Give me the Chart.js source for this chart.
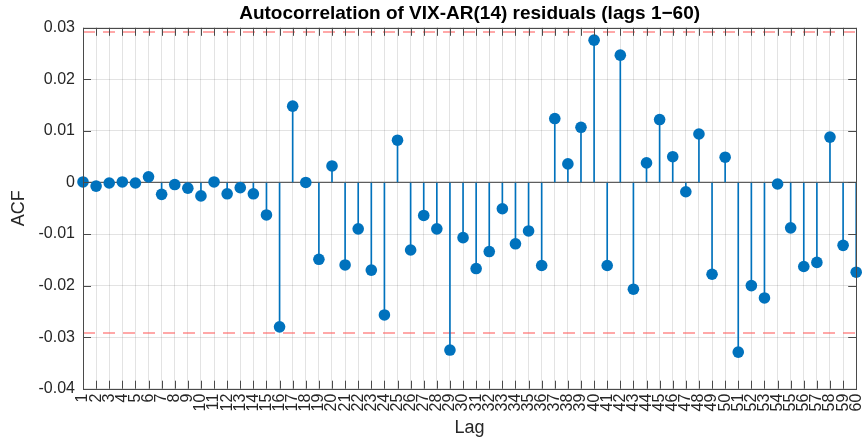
<!DOCTYPE html>
<html>
<head>
<meta charset="utf-8">
<script src="https://cdn.jsdelivr.net/npm/chart.js@4"></script>
<style>
  html, body { margin: 0; padding: 0; background: #fff; }
</style>
</head>
<body>
<canvas id="acfChart" width="862" height="444"></canvas>
<script>
const lags = [
    1, 2, 3, 4, 5, 6, 7, 8, 9, 10,
    11, 12, 13, 14, 15, 16, 17, 18, 19, 20,
    21, 22, 23, 24, 25, 26, 27, 28, 29, 30,
    31, 32, 33, 34, 35, 36, 37, 38, 39, 40,
    41, 42, 43, 44, 45, 46, 47, 48, 49, 50,
    51, 52, 53, 54, 55, 56, 57, 58, 59, 60,
];

const acf = [
    0.0001, -0.0007, -0.0001, 0.0001, -0.0001, 0.0011, -0.0023, -0.0004, -0.0011, -0.0026,
    0.0001, -0.0022, -0.0010, -0.0022, -0.0063, -0.0280, 0.0148, 0.0000, -0.0149, 0.0032,
    -0.0160, -0.0090, -0.0170, -0.0257, 0.0082, -0.0131, -0.0064, -0.0090, -0.0325, -0.0107,
    -0.0167, -0.0134, -0.0051, -0.0119, -0.0094, -0.0161, 0.0124, 0.0036, 0.0107, 0.0276,
    -0.0161, 0.0247, -0.0207, 0.0038, 0.0122, 0.0050, -0.0018, 0.0094, -0.0178, 0.0049,
    -0.0329, -0.0200, -0.0224, -0.0003, -0.0088, -0.0163, -0.0155, 0.0088, -0.0122, -0.0174,
];

// 95% band, +/- 1.96/sqrt(N)
const confBound = 0.0292;

const yTicks = [-0.04, -0.03, -0.02, -0.01, 0, 0.01, 0.02, 0.03];

const FONT = "'Liberation Sans', Arial, Helvetica, sans-serif";
const AXIS_COLOR = '#262626';
const STEM_COLOR = '#0072BD';

const points = lags.map((lag, i) => ({x: lag, y: acf[i]}));
const firstLag = lags[0];
const lastLag = lags[lags.length - 1];

// matlab style box, inward ticks and the stem baseline
const axesBox = {
    id: 'axesBox',
    beforeDatasetsDraw(chart) {
        const {ctx, chartArea: a, scales: {y}} = chart;
        const y0 = y.getPixelForValue(0);
        ctx.save();
        ctx.strokeStyle = '#5e5e5e';
        ctx.lineWidth = 1.2;
        ctx.beginPath();
        ctx.moveTo(a.left, y0);
        ctx.lineTo(a.right, y0);
        ctx.stroke();
        ctx.restore();
    },
    afterDraw(chart) {
        const {ctx, chartArea: a, scales: {x, y}} = chart;
        const len = 8;
        ctx.save();
        ctx.strokeStyle = '#4a4a4a';
        ctx.lineWidth = 1;
        ctx.beginPath();
        x.ticks.forEach(t => {
            const px = Math.round(x.getPixelForValue(t.value)) + 0.5;
            ctx.moveTo(px, a.bottom);
            ctx.lineTo(px, a.bottom - len);
            ctx.moveTo(px, a.top);
            ctx.lineTo(px, a.top + len);
        });
        y.ticks.forEach(t => {
            const py = Math.round(y.getPixelForValue(t.value)) + 0.5;
            ctx.moveTo(a.left, py);
            ctx.lineTo(a.left + len, py);
            ctx.moveTo(a.right, py);
            ctx.lineTo(a.right - len, py);
        });
        ctx.stroke();
        ctx.strokeRect(Math.round(a.left) + 0.5, Math.round(a.top) + 0.5,
            Math.round(a.right - a.left), Math.round(a.bottom - a.top));
        ctx.restore();
    }
};

const config = {
    type: 'bar',
    data: {
        datasets: [
            {
                type: 'line',
                label: 'ACF',
                data: points,
                showLine: false,
                pointRadius: 5.8,
                pointBackgroundColor: STEM_COLOR,
                pointBorderWidth: 0,
                clip: false,
                order: 0,
            },
            {
                type: 'bar',
                label: 'stems',
                data: points,
                backgroundColor: STEM_COLOR,
                barThickness: 1,
                order: 1,
            },
            {
                type: 'line',
                label: 'upper',
                data: [{x: firstLag, y: confBound}, {x: lastLag, y: confBound}],
                borderColor: 'rgba(255, 90, 90, 0.7)',
                borderWidth: 1.5,
                borderDash: [12, 8],
                pointRadius: 0,
                order: 2,
            },
            {
                type: 'line',
                label: 'lower',
                data: [{x: firstLag, y: -confBound}, {x: lastLag, y: -confBound}],
                borderColor: 'rgba(255, 90, 90, 0.7)',
                borderWidth: 1.5,
                borderDash: [12, 8],
                pointRadius: 0,
                order: 2,
            },
        ]
    },
    options: {
        responsive: false,
        animation: false,
        layout: {padding: {top: 0, right: 3, bottom: 0, left: 0}},
        plugins: {
            legend: {display: false},
            tooltip: {enabled: false},
            title: {
                display: true,
                fullSize: false,
                text: 'Autocorrelation of VIX-AR(14) residuals (lags 1\u221260)',
                color: '#000',
                font: {family: FONT, size: 19, weight: 'bold'},
                padding: {top: 2, bottom: 3},
            },
        },
        scales: {
            x: {
                type: 'linear',
                min: firstLag,
                max: lastLag,
                offset: false,
                border: {display: false},
                grid: {color: 'rgba(38, 38, 38, 0.13)', drawTicks: false, offset: false},
                ticks: {
                    stepSize: 1,
                    autoSkip: false,
                    maxRotation: 90,
                    minRotation: 90,
                    padding: 5,
                    color: AXIS_COLOR,
                    font: {family: FONT, size: 16},
                },
                title: {
                    display: true,
                    text: 'Lag',
                    color: AXIS_COLOR,
                    font: {family: FONT, size: 18},
                    padding: {top: 0, bottom: 5},
                },
                afterFit(scale) {
                    scale.height = 55.3;
                    scale.paddingLeft = 0;
                    scale.paddingRight = 0;
                },
            },
            y: {
                min: yTicks[0],
                max: yTicks[yTicks.length - 1],
                border: {display: false},
                grid: {color: 'rgba(38, 38, 38, 0.13)', drawTicks: false},
                afterBuildTicks(scale) {
                    scale.ticks = yTicks.map(v => ({value: v}));
                },
                ticks: {
                    padding: 8,
                    color: AXIS_COLOR,
                    font: {family: FONT, size: 16},
                    callback: v => Math.abs(v) < 1e-9 ? '0' : v.toFixed(2),
                },
                title: {
                    display: true,
                    text: 'ACF',
                    color: AXIS_COLOR,
                    font: {family: FONT, size: 18},
                    padding: {top: 8, bottom: 0},
                },
                afterFit(scale) {
                    scale.width = 83;
                    scale.paddingTop = 0;
                    scale.paddingBottom = 0;
                },
            },
        },
    },
    plugins: [axesBox],
};

const acfChart = new Chart(document.getElementById('acfChart'), config);
</script>
</body>
</html>
